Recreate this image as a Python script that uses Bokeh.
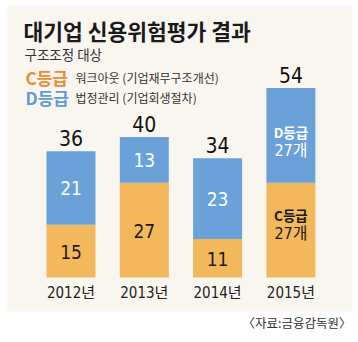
import numpy as np
from bokeh.plotting import figure
from bokeh.models import Label, BoxAnnotation, ColumnDataSource
from bokeh.core.properties import value
from bokeh.embed import file_html
from bokeh.resources import INLINE

# ---- data ----
years = ["2012년", "2013년", "2014년", "2015년"]
c_grade = [15, 27, 11, 27]   # C등급 워크아웃
d_grade = [21, 13, 23, 27]   # D등급 법정관리
c_labels = ["15", "27", "11", "C등급\n27개"]
d_labels = ["21", "13", "23", "D등급\n27개"]

title_text = "대기업 신용위험평가 결과"
subtitle_text = "구조조정 대상"
legend_c = ("C등급", "워크아웃 (기업재무구조개선)")
legend_d = ("D등급", "법정관리 (기업회생절차)")
source_text = "〈자료:금융감독원〉"

# ---- styling ----
W, H = 358, 342
ORANGE = "#f3b75c"
BLUE = "#6ba1d9"
C_COL = "#ef8a35"
D_COL = "#5d9ad6"
PANEL = "#f9f6f0"
KR = "Noto Sans CJK KR"
NUM = "'DejaVu Sans Condensed', 'Roboto'"
YR = "'DejaVu Sans Condensed', 'Noto Sans CJK KR'"

# pixel helpers for layout (frame == whole canvas)
X0, DX = 70.5, 73.3      # px of first bar centre, px between bars
Y0, KY = 277.0, 3.51     # px of baseline, px per unit

def X(px):
    return (px - X0) / DX

def Y(py):
    return (Y0 - py) / KY

p = figure(width=W, height=H, output_backend="svg", toolbar_location=None,
           x_range=(X(0), X(W)), y_range=(Y(H), Y(0)),
           min_border=0, min_border_left=0, min_border_right=0,
           min_border_top=0, min_border_bottom=0)
p.axis.visible = False
p.grid.visible = False
p.outline_line_color = None
p.background_fill_color = "white"
p.border_fill_color = "white"

# background panel
p.add_layout(BoxAnnotation(left=X(7), right=X(352), top=Y(5), bottom=Y(311),
                           fill_color=PANEL, fill_alpha=1, line_color=None,
                           level="underlay"))

idx = np.arange(len(years))
c = np.array(c_grade, dtype=float)
d = np.array(d_grade, dtype=float)
tot = c + d
bw = 49 / DX

src = ColumnDataSource(dict(x=idx, c=c, top=tot, cm=c / 2, dm=c + d / 2,
                            zero=np.zeros(len(years)),
                            tot_lbl=[str(int(t)) for t in tot],
                            year=years))
p.vbar(x="x", bottom=0, top="c", width=bw, source=src, fill_color=ORANGE, line_color=None)
p.vbar(x="x", bottom="c", top="top", width=bw, source=src, fill_color=BLUE, line_color=None)

# total labels
p.text(x="x", y="top", text="tot_lbl", source=src, text_align="center",
       text_baseline="middle", y_offset=-13, text_font=value(NUM),
       text_font_size="21px", text_color="#111111")

# inner labels (single line)
single = [i for i in range(len(years)) if "\n" not in c_labels[i]]
multi = [i for i in range(len(years)) if "\n" in c_labels[i]]
s1 = ColumnDataSource(dict(x=idx[single], cm=(c / 2)[single], dm=(c + d / 2)[single],
                           cl=[c_labels[i] for i in single], dl=[d_labels[i] for i in single]))
p.text(x="x", y="cm", text="cl", source=s1, text_align="center", text_baseline="middle",
       y_offset=1, text_font=value(NUM), text_font_size="19px", text_color="#1a1a1a")
p.text(x="x", y="dm", text="dl", source=s1, text_align="center", text_baseline="middle",
       text_font=value(NUM), text_font_size="19px", text_color="white")

# two-line labels (2015)
for i in multi:
    for lbls, mid, offs, col in ((c_labels, c[i] / 2, (-15, 3), "#1a1a1a"),
                                 (d_labels, c[i] + d[i] / 2, (-3, 15), "white")):
        l1, l2 = lbls[i].split("\n")
        p.text(x=[idx[i]], y=[mid], text=[l1], text_align="center", text_baseline="middle",
               y_offset=offs[0], text_font=value(KR), text_font_size="13.5px",
               text_font_style="bold", text_color=col)
        p.text(x=[idx[i]], y=[mid], text=[l2], text_align="center", text_baseline="middle",
               y_offset=offs[1], text_font=value(YR), text_font_size="16px", text_color=col)

# year labels
p.text(x="x", y="zero", text="year", source=src, text_align="center",
       text_baseline="middle", y_offset=15, text_font=value(YR),
       text_font_size="15px", text_color="#222222")

# title / legend / source
def lab(txt, px, py, size, color, style="normal", align="left", font=KR):
    p.add_layout(Label(x=X(px), y=Y(py), text=txt, text_font=font, text_font_size=size,
                       text_color=color, text_font_style=style, text_align=align,
                       text_baseline="middle"))

lab(title_text, 23, 30, "21.5px", "#1a1a1a", "bold")
lab(subtitle_text, 24, 53, "13.5px", "#333333")
lab(legend_c[0], 25, 77, "17px", C_COL, "bold")
lab(legend_c[1], 75, 77, "12px", "#333333")
lab(legend_d[0], 25, 97, "17px", D_COL, "bold")
lab(legend_d[1], 75, 97, "12px", "#333333")
lab(source_text, 351, 322, "12.5px", "#333333", align="right")

open("out.html", "w").write(file_html(p, INLINE))
